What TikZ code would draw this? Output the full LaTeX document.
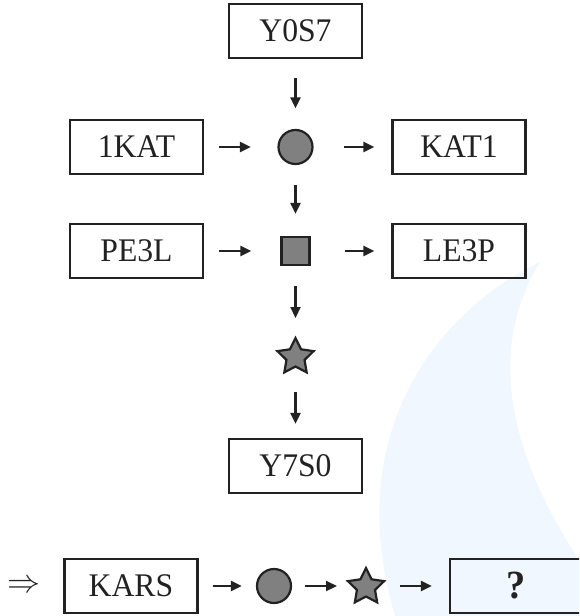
\documentclass[tikz,border=0pt]{standalone}
\usepackage{fontspec}
\usepackage{graphicx}
\setmainfont{Liberation Serif}[FakeStretch=0.96]
\usetikzlibrary{arrows.meta,shapes.geometric}
\definecolor{ink}{HTML}{222222}
\definecolor{shade}{HTML}{808080}
\definecolor{wm}{HTML}{F0F7FE}
\begin{document}
\begin{tikzpicture}[x=1pt,y=-1pt,
  box/.style={draw=ink,line width=2.2pt,minimum width=133pt,minimum height=54pt,inner sep=0pt,
    font=\fontsize{33}{33}\selectfont,text=ink},
  arr/.style={-{Triangle[length=11pt,width=10pt]},line width=2.2pt,draw=ink},
  dot/.style={circle,draw=ink,fill=shade,line width=2.2pt,minimum size=34pt,inner sep=0pt},
  sq/.style={rectangle,draw=ink,fill=shade,line width=2.2pt,minimum size=28pt,inner sep=0pt},
  st/.style={star,star points=5,star point ratio=2.0,draw=ink,fill=shade,line width=2.2pt,
    minimum size=38pt,inner sep=0pt}]
\useasboundingbox (0,0) rectangle (579,616);
\clip (0,0) rectangle (579,616);
% faint watermark
\fill[wm] (540,262) .. controls (440,310) and (340,430) .. (395,616)
  -- (579,616) -- (579,560) .. controls (520,470) and (480,360) .. (540,262) -- cycle;

\node[box] (y0s7) at (295.5,31) {Y0S7};
\node[box] (kat1l) at (136.5,147) {1KAT};
\node[dot] (c1) at (295.5,147) {};
\node[box] (kat1r) at (459,147) {KAT1};
\node[box] (pe3l) at (136.5,251) {PE3L};
\node[sq] (s1) at (295.5,251) {};
\node[box] (le3p) at (459,251) {LE3P};
\node[st] (st1) at (295.5,357) {};
\node[box] (y7s0) at (295.5,466) {Y7S0};

\node[text=ink,inner sep=0pt] (imp) at (24,586) {\resizebox{33pt}{!}{$\Rightarrow$}};
\node[box] (kars) at (131,586) {KARS};
\node[dot] (c2) at (274,586) {};
\node[st] (st2) at (366,587) {};
\node[box,fill=wm,font=\fontsize{40}{40}\selectfont\bfseries] (q) at (516.5,586) {?};

% connectors
\draw[arr,shorten <=19pt,shorten >=20.5pt] (y0s7.south) -- (c1.north);
\draw[arr,shorten <=15pt,shorten >=26.5pt] (kat1l.east) -- (c1.west);
\draw[arr,shorten <=30.5pt,shorten >=17pt] (c1.east) -- (kat1r.west);
\draw[arr,shorten <=19.5pt,shorten >=22pt] (c1.south) -- (s1.north);
\draw[arr,shorten <=15pt,shorten >=29pt] (pe3l.east) -- (s1.west);
\draw[arr,shorten <=34pt,shorten >=17pt] (s1.east) -- (le3p.west);
\draw[arr,shorten <=20pt,shorten >=39pt] (s1.south) -- (st1.center);
\draw[arr,shorten <=35pt,shorten >=14pt] (st1.center) -- (y7s0.north);

\draw[arr,shorten <=14pt,shorten >=14pt] (kars.east) -- (c2.west);
\draw[arr,shorten <=13pt,shorten >=29pt] (c2.east) -- (st2.center |- c2.east);
\draw[arr,shorten <=34pt,shorten >=17pt] (st2.center |- q.west) -- (q.west);
\end{tikzpicture}
\end{document}
